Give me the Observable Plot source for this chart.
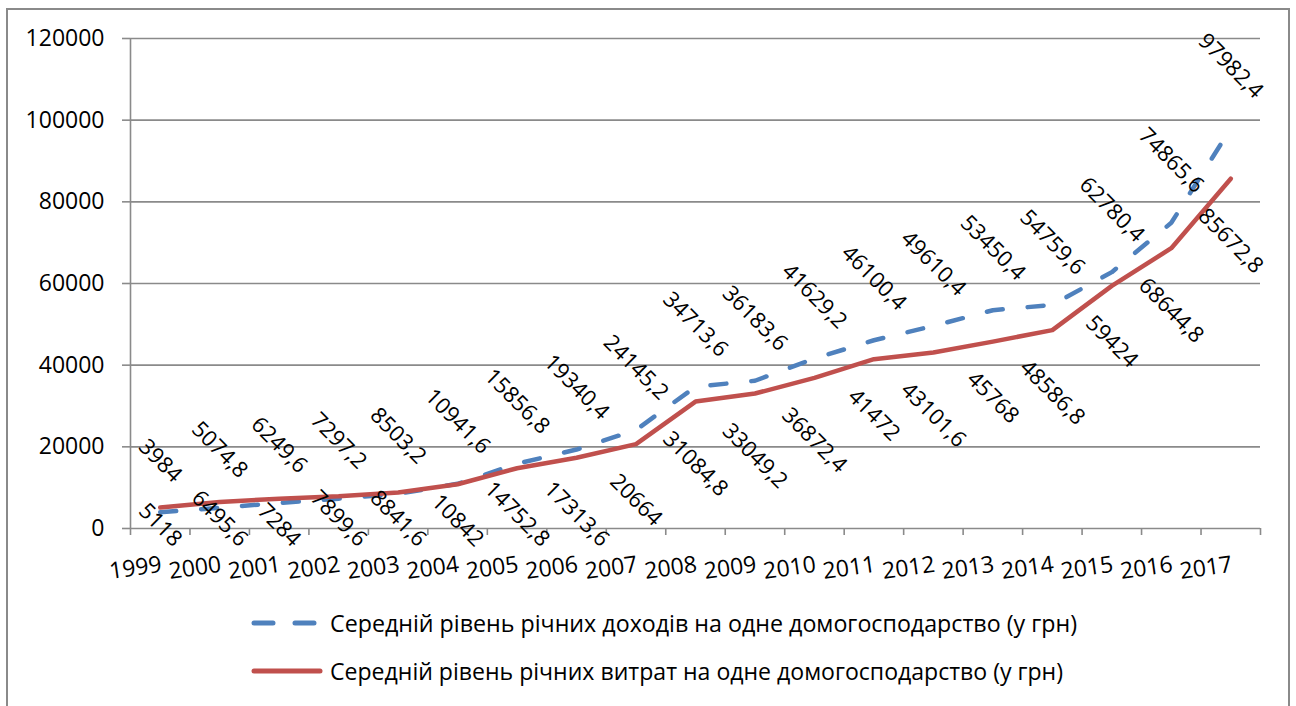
<!DOCTYPE html>
<html>
<head>
<meta charset="utf-8">
<script src="https://cdn.jsdelivr.net/npm/d3@7"></script>
<script src="https://cdn.jsdelivr.net/npm/@observablehq/plot@0.6"></script>
<style>
  html, body { margin: 0; padding: 0; background: #fff; }
  body { width: 1296px; height: 706px; position: relative; overflow: hidden; font-family: "Open Sans", sans-serif; }
  #chart { position: absolute; left: 0; top: 0; }
  #legend { position: absolute; left: 0; top: 0; }
  #frame { position: absolute; left: 6px; top: 8px; width: 1284px; height: 720px; border: 2px solid #8a8a8a; box-sizing: border-box; pointer-events: none; }
</style>
</head>
<body>
<div id="chart"></div>
<svg id="legend" width="1296" height="706"></svg>
<div id="frame"></div>
<script>
// ---- data ----
const years = [1999, 2000, 2001, 2002, 2003, 2004, 2005, 2006, 2007, 2008, 2009, 2010, 2011, 2012, 2013, 2014, 2015, 2016, 2017];
const income = [3984, 5074.8, 6249.6, 7297.2, 8503.2, 10941.6, 15856.8, 19340.4, 24145.2, 34713.6, 36183.6, 41629.2, 46100.4, 49610.4, 53450.4, 54759.6, 62780.4, 74865.6, 97982.4];
const expenses = [5118, 6495.6, 7284, 7899.6, 8841.6, 10842, 14752.8, 17313.6, 20664, 31084.8, 33049.2, 36872.4, 41472, 43101.6, 45768, 48586.8, 59424, 68644.8, 85672.8];
const yTicks = [0, 20000, 40000, 60000, 80000, 100000, 120000];
const seriesNames = [
  "Середній рівень річних доходів на одне домогосподарство (у грн)",
  "Середній рівень річних витрат на одне домогосподарство (у грн)"
];
const colors = ["#4F81BD", "#C0504D"];

const fmt = v => String(v).replace(".", ",");
const data = years.map((year, i) => ({year, income: income[i], expenses: expenses[i]}));
const boundaries = years.map(y => y - 0.5).concat([years[years.length - 1] + 0.5]);

const plot = Plot.plot({
  width: 1296,
  height: 600,
  marginLeft: 130,
  marginRight: 36,
  marginTop: 38,
  marginBottom: 72,
  x: {domain: [boundaries[0], boundaries[boundaries.length - 1]]},
  y: {domain: [0, 120000]},
  style: {fontFamily: "'Open Sans', sans-serif", fontSize: "23px", color: "#000", background: "transparent", overflow: "visible"},
  marks: [
    Plot.ruleY(yTicks, {stroke: "#8a8a8a", strokeWidth: 1.6}),
    Plot.ruleX([boundaries[0]], {stroke: "#8a8a8a", strokeWidth: 1.6}),
    Plot.axisY({ticks: yTicks, tickSize: 8, tickPadding: 18, tickFormat: d => String(d), label: null, stroke: "#8a8a8a", strokeWidth: 1.6, fontSize: 23, fill: "#000"}),
    Plot.axisX({ticks: boundaries, tickSize: 7, tickFormat: () => "", label: null, stroke: "#8a8a8a", strokeWidth: 1.6}),
    Plot.axisX({ticks: years, tickSize: 0, tickPadding: 27, tickRotate: -8, textAnchor: "end", lineAnchor: "top", tickFormat: d => String(d), label: null, fontSize: 23, fill: "#000"}),
    Plot.line(data, {x: "year", y: "income", stroke: colors[0], strokeWidth: 4.5, strokeDasharray: "16,25", strokeLinecap: "round", strokeLinejoin: "round"}),
    Plot.line(data, {x: "year", y: "expenses", stroke: colors[1], strokeWidth: 4.5, strokeLinecap: "round", strokeLinejoin: "round"}),
    Plot.text(data, {x: "year", y: "income", text: d => fmt(d.income), rotate: 45, fontSize: 22, textAnchor: "middle", fill: "#000"}),
    Plot.text(data, {x: "year", y: "expenses", text: d => fmt(d.expenses), rotate: 45, fontSize: 22, textAnchor: "middle", fill: "#000"})
  ]
});
document.getElementById("chart").appendChild(plot);

// offset rotated data labels above (income) / below (expenses) their points,
// keeping the lower labels from running into the year labels
const incomeSet = new Set(income.map(fmt));
const expenseSet = new Set(expenses.map(fmt));
const bottomLimit = 548;
plot.querySelectorAll("text").forEach(t => {
  const s = t.textContent;
  const sign = incomeSet.has(s) ? -1 : expenseSet.has(s) ? 1 : 0;
  if (!sign) return;
  const w = t.getComputedTextLength();
  const half = (w + 16) / (2 * Math.SQRT2);
  let off = half + 28;
  const tr = t.getAttribute("transform") || "";
  if (sign > 0) {
    const m = tr.match(/translate\(\s*([-\d.e]+)[,\s]+([-\d.e]+)\s*\)/);
    if (m) {
      const py = +m[2];
      off = Math.min(off, bottomLimit - half - py);
    }
  }
  t.setAttribute("transform", `translate(0,${sign * off}) ` + tr);
});

// legend
const lg = d3.select("#legend");
const rows = [{y: 623, dash: "19,22", x2: 316}, {y: 671, dash: null, x2: 320}];
rows.forEach((r, i) => {
  const ln = lg.append("line").attr("x1", 254).attr("x2", r.x2).attr("y1", r.y).attr("y2", r.y)
    .attr("stroke", colors[i]).attr("stroke-width", 5).attr("stroke-linecap", "round");
  if (r.dash) ln.attr("stroke-dasharray", r.dash);
  lg.append("text").attr("x", 330).attr("y", r.y + 9)
    .attr("font-family", "'Open Sans', sans-serif").attr("font-size", 24).attr("fill", "#000")
    .attr("textLength", i === 0 ? 747 : 733).attr("lengthAdjust", "spacingAndGlyphs")
    .text(seriesNames[i]);
});
</script>
</body>
</html>
